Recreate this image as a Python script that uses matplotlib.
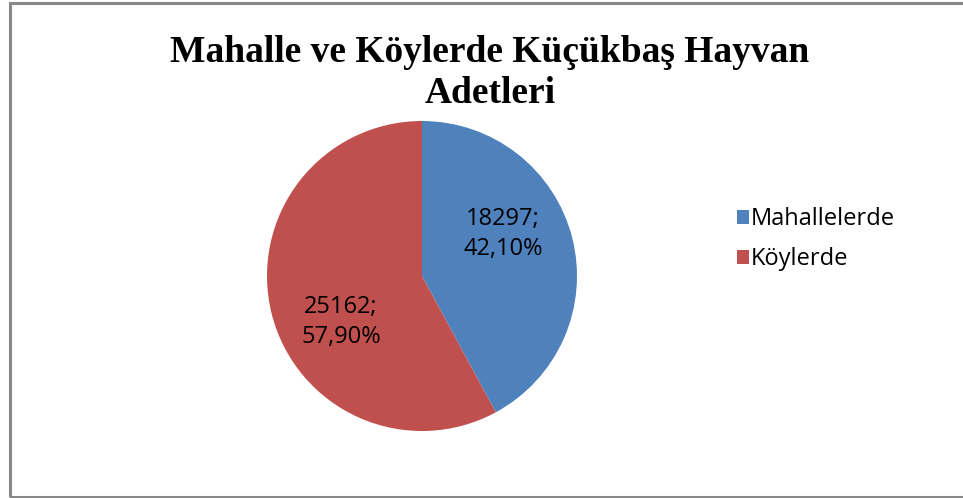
import matplotlib.pyplot as plt
from matplotlib.patches import Rectangle, Patch

categories = ["Mahallelerde", "Köylerde"]
values = [18297, 25162]
percents = ["42,10%", "57,90%"]
colors = ["#4F81BD", "#C0504D"]

fig = plt.figure(figsize=(9.63, 4.98), dpi=100)
W, H = 963, 498

# chart border
fig.patches.append(Rectangle((9.5 / W, 1 - 496.5 / H), 2, (496.5 - 3.5) / H,
                             transform=fig.transFigure, fill=False,
                             edgecolor="#888888", linewidth=2.2))

# pie axes centred at (422, 276) px, radius ~155 px
r = 155
cx, cy = 422, 276
ax = fig.add_axes([(cx - r) / W, 1 - (cy + r) / H, 2 * r / W, 2 * r / H])
wedges, _ = ax.pie(values, colors=colors, startangle=90, counterclock=False,
                   radius=1.0, wedgeprops=dict(linewidth=0))
ax.set_xlim(-1, 1)
ax.set_ylim(-1, 1)
ax.set_aspect("equal")
ax.axis("off")

label_pos = [(0.523, 0.271), (-0.523, -0.297)]
for (x, y), v, p in zip(label_pos, values, percents):
    ax.text(x, y, f"{v};\n{p}", ha="center", va="center", fontsize=17,
            family="Open Sans", linespacing=1.3)

fig.text(490 / W, 1 - 73 / H, "Mahalle ve Köylerde Küçükbaş Hayvan\nAdetleri",
         ha="center", va="center", fontsize=27, fontweight="bold",
         family="Liberation Serif", linespacing=1.22)

handles = [Patch(facecolor=c, edgecolor="none") for c in colors]
fig.legend(handles, categories, loc="center left",
           bbox_to_anchor=(737 / W, 1 - 239 / H), frameon=False,
           prop={"family": "Open Sans", "size": 17}, handlelength=0.52,
           handleheight=0.55, handletextpad=0.08, labelspacing=0.68,
           borderaxespad=0, borderpad=0)

plt.savefig("out.png")
